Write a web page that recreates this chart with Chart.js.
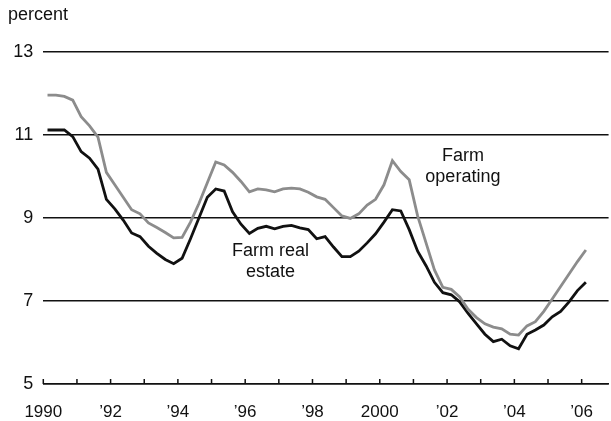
<!DOCTYPE html>
<html>
<head>
<meta charset="utf-8">
<script src="https://cdn.jsdelivr.net/npm/chart.js@4.4.1/dist/chart.umd.min.js"></script>
<style>
  html, body { margin: 0; padding: 0; background: #ffffff; }
  #wrap { width: 611px; height: 421px; }
</style>
</head>
<body>
<div id="wrap"><canvas id="c" width="611" height="421"></canvas></div>
<script>
// Quarterly observations, 1990:Q1 - 2006:Q1 (percent)
const startYear = 1990;
const farmOperating = [
  11.96, 11.96, 11.93, 11.84, 11.44, 11.22, 10.95, 10.10,
  9.80, 9.50, 9.20, 9.10, 8.88, 8.77, 8.65, 8.52,
  8.53, 8.90, 9.35, 9.85, 10.35, 10.28, 10.10, 9.88,
  9.63, 9.70, 9.68, 9.63, 9.70, 9.72, 9.70, 9.62,
  9.51, 9.45, 9.25, 9.05, 8.99, 9.10, 9.31, 9.45,
  9.80, 10.38, 10.12, 9.92, 9.05, 8.40, 7.75, 7.33,
  7.28, 7.10, 6.80, 6.60, 6.45, 6.37, 6.33, 6.20,
  6.18, 6.40, 6.50, 6.75, 7.05, 7.35, 7.65, 7.95,
  8.23
];
const farmRealEstate = [
  11.12, 11.12, 11.12, 10.96, 10.60, 10.44, 10.18, 9.45,
  9.22, 8.95, 8.64, 8.55, 8.32, 8.15, 8.00, 7.90,
  8.03, 8.50, 9.00, 9.50, 9.70, 9.65, 9.15, 8.85,
  8.63, 8.75, 8.80, 8.74, 8.80, 8.82, 8.76, 8.72,
  8.50, 8.55, 8.30, 8.07, 8.07, 8.20, 8.40, 8.62,
  8.90, 9.20, 9.17, 8.72, 8.20, 7.85, 7.45, 7.20,
  7.15, 6.98, 6.70, 6.45, 6.20, 6.02, 6.08, 5.92,
  5.85, 6.20, 6.30, 6.42, 6.62, 6.75, 6.98, 7.25,
  7.45
];
const yTicks = [5, 7, 9, 11, 13];
const xLabelYears = [1990, 1992, 1994, 1996, 1998, 2000, 2002, 2004, 2006];
const xLabelText = ['1990', '\u201992', '\u201994', '\u201996', '\u201998', '2000', '\u201902', '\u201904', '\u201906'];
const seriesNames = ['Farm operating', 'Farm real estate'];
const annotations = [
  { lines: ['Farm', 'operating'], x: 2002.47, y: [10.49, 9.99] },
  { lines: ['Farm real', 'estate'], x: 1996.75, y: [8.20, 7.70] }
];

const quarterX = q => startYear + q * 0.25 + 0.125;
const toPoints = arr => arr.map((v, i) => ({ x: quarterX(i), y: v }));

const FONT = "'Liberation Sans', Arial, Helvetica, sans-serif";

const extrasPlugin = {
  id: 'extras',
  afterDatasetsDraw(chart) {
    const ctx = chart.ctx;
    const xs = chart.scales.x, ys = chart.scales.y;
    const bottom = chart.chartArea.bottom;
    ctx.save();
    // inward tick marks on the x axis
    ctx.strokeStyle = '#111';
    ctx.lineWidth = 1.5;
    xs.ticks.forEach(t => {
      if (Math.abs(t.value - Math.round(t.value)) > 1e-6) return;
      const px = xs.getPixelForValue(t.value);
      ctx.beginPath();
      ctx.moveTo(px, bottom);
      ctx.lineTo(px, bottom - 5);
      ctx.stroke();
    });
    // in-chart series labels
    ctx.fillStyle = '#111';
    ctx.font = '18px ' + FONT;
    ctx.textAlign = 'center';
    ctx.textBaseline = 'middle';
    annotations.forEach(a => {
      a.lines.forEach((ln, i) => {
        ctx.fillText(ln, xs.getPixelForValue(a.x), ys.getPixelForValue(a.y[i]));
      });
    });
    // unit label
    ctx.textAlign = 'left';
    ctx.fillText('percent', 8, 15);
    ctx.restore();
  }
};

new Chart(document.getElementById('c'), {
  type: 'line',
  data: {
    datasets: [
      { label: seriesNames[0], data: toPoints(farmOperating), borderColor: '#8c8c8c', borderWidth: 2.8,
        pointRadius: 0, tension: 0, fill: false },
      { label: seriesNames[1], data: toPoints(farmRealEstate), borderColor: '#111111', borderWidth: 2.8,
        pointRadius: 0, tension: 0, fill: false }
    ]
  },
  options: {
    responsive: false,
    animation: false,
    devicePixelRatio: 1,
    layout: { padding: { top: 52, left: 0, right: 0, bottom: 0 } },
    plugins: { legend: { display: false }, tooltip: { enabled: false }, title: { display: false } },
    scales: {
      x: {
        type: 'linear',
        min: 1990,
        max: 2006.8,
        afterFit: s => { s.height = 37; },
        grid: { display: true, drawOnChartArea: false, drawTicks: false },
        border: { display: true, color: '#111', width: 1.5 },
        ticks: {
          stepSize: 1,
          includeBounds: false,
          autoSkip: false,
          maxRotation: 0,
          padding: 18,
          color: '#111',
          font: { family: FONT, size: 17 },
          callback: v => {
            const i = xLabelYears.indexOf(v);
            return i >= 0 ? xLabelText[i] : '';
          }
        }
      },
      y: {
        min: 5,
        max: 13,
        afterFit: s => { s.width = 43.3; },
        afterBuildTicks: s => { s.ticks = yTicks.map(v => ({ value: v })); },
        grid: { color: '#111', lineWidth: 1.5, drawTicks: false },
        border: { display: false },
        ticks: { padding: 10, color: '#111', font: { family: FONT, size: 18 } }
      }
    }
  },
  plugins: [extrasPlugin]
});
</script>
</body>
</html>
